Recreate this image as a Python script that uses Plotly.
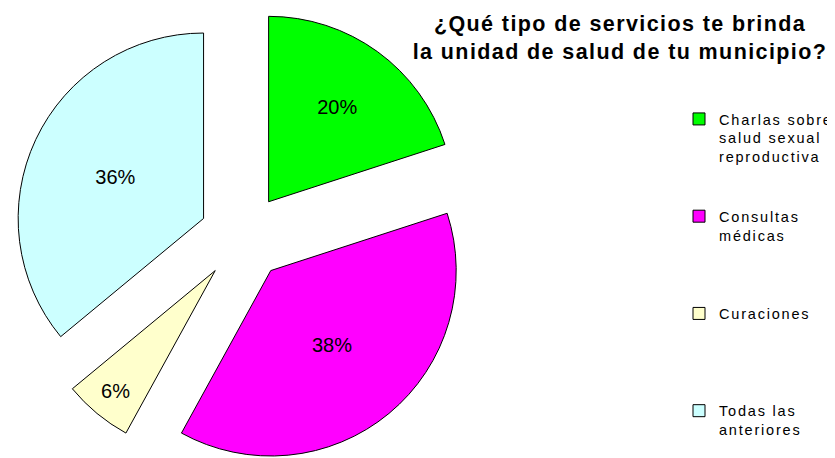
import plotly.graph_objects as go

# Data
categories = [
    "Charlas sobre<br>salud sexual<br>reproductiva",
    "Consultas<br>médicas",
    "Curaciones",
    "Todas las<br>anteriores",
]
values = [20, 38, 6, 36]
colors = ["#00FF00", "#FF00FF", "#FFFFCC", "#CCFFFF"]
title_text = "¿Qué tipo de servicios te brinda<br>la unidad de salud de tu municipio?"

W, H = 835, 458
LINES_PER_ITEM = 5


def pad_label(s, n=LINES_PER_ITEM):
    k = s.count("<br>") + 1
    return s + "<br>&nbsp;" * max(0, n - k)


# pad every legend entry except the last one so entries are evenly spaced
legend_labels = [pad_label(c) for c in categories[:-1]] + [categories[-1]]

fig = go.Figure(
    go.Pie(
        labels=legend_labels,
        values=values,
        sort=False,
        direction="clockwise",
        rotation=0,
        pull=[0.235] * len(values),
        marker=dict(colors=colors, line=dict(color="#000000", width=1)),
        textinfo="percent",
        texttemplate="%{percent:.0%}",
        textposition="inside",
        insidetextorientation="horizontal",
        textfont=dict(family="Liberation Sans, Arial, sans-serif", size=20, color="#000000"),
        domain=dict(x=[1.25 / W, 468.75 / W], y=[0, 1]),
        hoverinfo="label+percent",
    )
)

fig.update_layout(
    width=W,
    height=H,
    margin=dict(l=0, r=0, t=0, b=0),
    paper_bgcolor="#FFFFFF",
    plot_bgcolor="#FFFFFF",
    uniformtext=dict(minsize=20, mode="show"),
    title=dict(
        text=title_text,
        x=612 / W,
        xanchor="center",
        xref="paper",
        y=1 - 23 / H,
        yanchor="top",
        yref="container",
        font=dict(family="Liberation Sans, Arial, sans-serif", size=21.5, color="#000000", weight="bold"),
    ),
    legend=dict(
        x=671 / W,
        xanchor="left",
        y=1 - 95 / H,
        yanchor="top",
        valign="top",
        font=dict(family="Liberation Sans, Arial, sans-serif", size=14.5, color="#000000"),
        bgcolor="rgba(0,0,0,0)",
        borderwidth=0,
    ),
    showlegend=True,
)

# the reference texts are rendered with wide letter spacing
post_js = """
var st = document.createElement('style');
st.textContent = '.legendtext { letter-spacing: 1.8px; }' +
                 '.legend .scrollbox { clip-path: none !important; }' +
                 '.gtitle { letter-spacing: 1.4px; }';
document.head.appendChild(st);
"""

fig.write_html("out.html", post_script=post_js)
